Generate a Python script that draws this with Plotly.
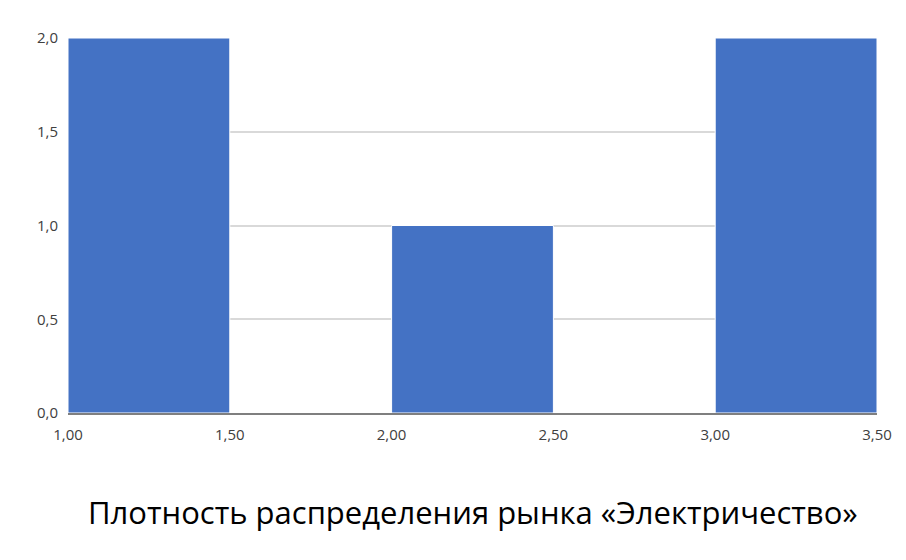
import plotly.graph_objects as go

bin_starts = [1.0, 1.5, 2.0, 2.5, 3.0]
counts = [2, 0, 1, 0, 2]
bin_width = 0.5
x_ticks = [1.0, 1.5, 2.0, 2.5, 3.0, 3.5]
y_ticks = [0, 0.5, 1.0, 1.5, 2.0]
title = "Плотность распределения рынка «Электричество»"

fig = go.Figure()
fig.add_trace(go.Bar(
    x=bin_starts, y=counts, width=[bin_width] * len(bin_starts), offset=0,
    marker=dict(color="#4472C4", line=dict(color="#FFFFFF", width=1)),
    hoverinfo="skip",
))

fig.update_layout(
    width=898, height=552,
    margin=dict(l=60, r=29, t=30, b=147),
    paper_bgcolor="white", plot_bgcolor="white",
    separators=", ",
    showlegend=False,
    font=dict(family="Open Sans, Noto Sans, sans-serif", size=15, color="#404040"),
    xaxis=dict(range=[1.0, 3.5], tickvals=x_ticks, tickformat=".2f",
               showgrid=False, zeroline=False, showline=True,
               linecolor="#7f7f7f", linewidth=1.5, ticks="", ticklabelstandoff=7,
               tickfont=dict(size=15, color="#404040")),
    yaxis=dict(range=[0, 2.0], tickvals=y_ticks, tickformat=".1f",
               showgrid=True, gridcolor="#d9d9d9", gridwidth=1.5, zeroline=False,
               showline=False, ticks="", ticklabelstandoff=9,
               tickfont=dict(size=15, color="#404040")),
    annotations=[dict(text=title, xref="paper", yref="paper", x=0.5, y=0,
                      yshift=-99, xanchor="center", yanchor="middle",
                      showarrow=False,
                      font=dict(family="Open Sans, Noto Sans, sans-serif", size=31, color="#000000"))],
)

fig.write_html("out.html")
